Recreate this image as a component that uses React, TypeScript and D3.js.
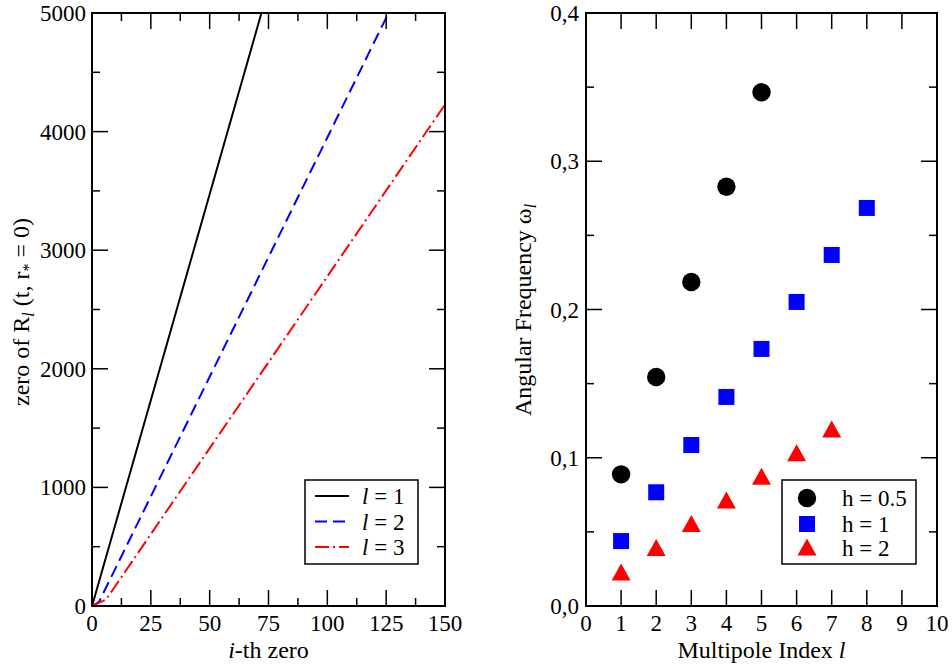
import React from "react";
import * as d3 from "d3";

// ---------- data ----------
// Left panel: zeros of R_l(t, r*=0) vs index of zero
const l1Zero = [0, 1, 72, 80];
const l1Val = [0, 68, 5000, 5560];
const l2Zero = [0, 1, 3, 126, 130];
const l2Val = [0, 10, 36, 5000, 5162];
const l3Zero = [0, 1, 6, 150];
const l3Val = [0, 10, 55, 4228];

const leftXTicks = [0, 25, 50, 75, 100, 125, 150];
const leftYTicks = [0, 1000, 2000, 3000, 4000, 5000];

// Right panel: angular frequency vs multipole index
const h05L = [1, 2, 3, 4, 5];
const h05W = [0.0888, 0.1545, 0.2186, 0.2828, 0.3465];
const h1L = [1, 2, 3, 4, 5, 6, 7, 8];
const h1W = [0.0438, 0.0767, 0.1086, 0.141, 0.1734, 0.2051, 0.2368, 0.2685];
const h2L = [1, 2, 3, 4, 5, 6, 7];
const h2W = [0.023, 0.0395, 0.0557, 0.0715, 0.0875, 0.1034, 0.1194];

const rightXTicks = [0, 1, 2, 3, 4, 5, 6, 7, 8, 9, 10];
const rightYTicks = [0, 0.1, 0.2, 0.3, 0.4];
const rightYTickLabels = ["0,0", "0,1", "0,2", "0,3", "0,4"];

const FONT = "'Liberation Serif', 'Times New Roman', serif";
const FS = 23; // tick labels / legend
const FT = 24; // axis titles

const top = 13, bottom = 606;

export default function App() {
  // scales
  const lx = d3.scaleLinear().domain([0, 150]).range([92, 445]);
  const ly = d3.scaleLinear().domain([0, 5000]).range([bottom, top]);
  const rx = d3.scaleLinear().domain([0, 10]).range([586, 937]);
  const ry = d3.scaleLinear().domain([0, 0.4]).range([bottom, top]);

  const line = (xs: number[], ys: number[]) =>
    d3.line<number>().x((_, i) => lx(xs[i])).y((_, i) => ly(ys[i]))(xs.map((_, i) => i)) || "";

  const MAJ = 16, MIN = 8;

  const leftXMinor = d3.range(12.5, 150, 25);
  const leftYMinor = d3.range(500, 5000, 1000);
  const rightYMinor = [0.05, 0.15, 0.25, 0.35];

  const frame = (x0: number, x1: number) => (
    <rect x={x0} y={top} width={x1 - x0} height={bottom - top} fill="none" stroke="#000" strokeWidth={2} />
  );

  const xTickMarks = (sx: d3.ScaleLinear<number, number>, vals: number[], len: number, key: string) =>
    vals.map((v) => (
      <g key={key + v}>
        <line x1={sx(v)} x2={sx(v)} y1={bottom} y2={bottom - len} stroke="#000" strokeWidth={1.5} />
        <line x1={sx(v)} x2={sx(v)} y1={top} y2={top + len} stroke="#000" strokeWidth={1.5} />
      </g>
    ));
  const yTickMarks = (sy: d3.ScaleLinear<number, number>, vals: number[], len: number, x0: number, x1: number, key: string) =>
    vals.map((v) => (
      <g key={key + v}>
        <line x1={x0} x2={x0 + len} y1={sy(v)} y2={sy(v)} stroke="#000" strokeWidth={1.5} />
        <line x1={x1} x2={x1 - len} y1={sy(v)} y2={sy(v)} stroke="#000" strokeWidth={1.5} />
      </g>
    ));

  const tri = (cx: number, cy: number, w: number, h: number) =>
    `M${cx},${cy - h / 2}L${cx + w / 2},${cy + h / 2}L${cx - w / 2},${cy + h / 2}Z`;

  return (
    <svg width={952} height={666} style={{ position: "absolute", left: 0, top: 0, background: "#fff" }}
      fontFamily={FONT}>
      <defs>
        <clipPath id="lclip">
          <rect x={92} y={top} width={353} height={bottom - top} />
        </clipPath>
      </defs>

      {/* ---------------- Left panel ---------------- */}
      <g clipPath="url(#lclip)" fill="none" strokeWidth={2}>
        <path d={line(l1Zero, l1Val)} stroke="#000" />
        <path d={line(l2Zero, l2Val)} stroke="#0000ff" strokeDasharray="12,6" />
        <path d={line(l3Zero, l3Val)} stroke="#ff0000" strokeDasharray="14,4,2,4" />
      </g>
      {xTickMarks(lx, leftXTicks, MAJ, "lxM")}
      {xTickMarks(lx, leftXMinor, MIN, "lxm")}
      {yTickMarks(ly, leftYTicks, MAJ, 92, 445, "lyM")}
      {yTickMarks(ly, leftYMinor, MIN, 92, 445, "lym")}
      {frame(92, 445)}
      {leftXTicks.map((v) => (
        <text key={"lxl" + v} x={lx(v)} y={631} fontSize={FS} textAnchor="middle">{v}</text>
      ))}
      {leftYTicks.map((v) => (
        <text key={"lyl" + v} x={86} y={ly(v) + 8} fontSize={FS} textAnchor="end">{v}</text>
      ))}
      <text x={lx(75)} y={658} fontSize={FT} textAnchor="middle">
        <tspan fontStyle="italic">i</tspan>-th zero
      </text>
      <text transform="translate(29,312) rotate(-90)" fontSize={FT} textAnchor="middle">
        zero of R<tspan fontStyle="italic" fontSize={16} dy={5}>l</tspan>
        <tspan dy={-5}> (t, r</tspan><tspan fontSize={16} dy={5}>*</tspan><tspan dy={-5}> = 0)</tspan>
      </text>

      {/* left legend */}
      <rect x={305} y={480} width={113} height={84} fill="#fff" stroke="#000" strokeWidth={1.5} />
      {[
        { c: "#000", d: "none", n: 1 },
        { c: "#0000ff", d: "12,6", n: 2 },
        { c: "#ff0000", d: "14,4,2,4", n: 3 },
      ].map((e, i) => (
        <g key={"ll" + i}>
          <line x1={315} x2={349} y1={496 + i * 25.5} y2={496 + i * 25.5} stroke={e.c} strokeWidth={2}
            strokeDasharray={e.d === "none" ? undefined : e.d} />
          <text x={362} y={504 + i * 25.5} fontSize={FS}>
            <tspan fontStyle="italic">l</tspan> = {e.n}
          </text>
        </g>
      ))}

      {/* ---------------- Right panel ---------------- */}
      {xTickMarks(rx, rightXTicks, MAJ, "rxM")}
      {yTickMarks(ry, rightYTicks, MAJ, 586, 937, "ryM")}
      {yTickMarks(ry, rightYMinor, MIN, 586, 937, "rym")}
      {frame(586, 937)}
      {rightXTicks.map((v) => (
        <text key={"rxl" + v} x={rx(v)} y={631} fontSize={FS} textAnchor="middle">{v}</text>
      ))}
      {rightYTicks.map((v, i) => (
        <text key={"ryl" + v} x={579} y={ry(v) + 8} fontSize={FS} textAnchor="end">{rightYTickLabels[i]}</text>
      ))}
      <text x={rx(5)} y={658} fontSize={FT} textAnchor="middle">
        Multipole Index <tspan fontStyle="italic">l</tspan>
      </text>
      <text transform="translate(531,310) rotate(-90)" fontSize={FT} textAnchor="middle">
        Angular Frequency ω<tspan fontStyle="italic" fontSize={16} dy={5}>l</tspan>
      </text>

      {h05L.map((l, i) => (
        <circle key={"c" + l} cx={rx(l)} cy={ry(h05W[i])} r={9.2} fill="#000" />
      ))}
      {h1L.map((l, i) => (
        <rect key={"s" + l} x={rx(l) - 8} y={ry(h1W[i]) - 8} width={16} height={16} fill="#0000ff" />
      ))}
      {h2L.map((l, i) => (
        <path key={"t" + l} d={tri(rx(l), ry(h2W[i]), 19, 17)} fill="#ff0000" />
      ))}

      {/* right legend */}
      <rect x={782} y={480} width={134} height={84} fill="#fff" stroke="#000" strokeWidth={1.5} />
      <circle cx={807} cy={498} r={9.2} fill="#000" />
      <rect x={799} y={516} width={16} height={16} fill="#0000ff" />
      <path d={tri(807, 547, 19, 17)} fill="#ff0000" />
      <text x={842} y={506} fontSize={FS}>h = 0.5</text>
      <text x={842} y={532} fontSize={FS}>h = 1</text>
      <text x={842} y={556} fontSize={FS}>h = 2</text>
    </svg>
  );
}
